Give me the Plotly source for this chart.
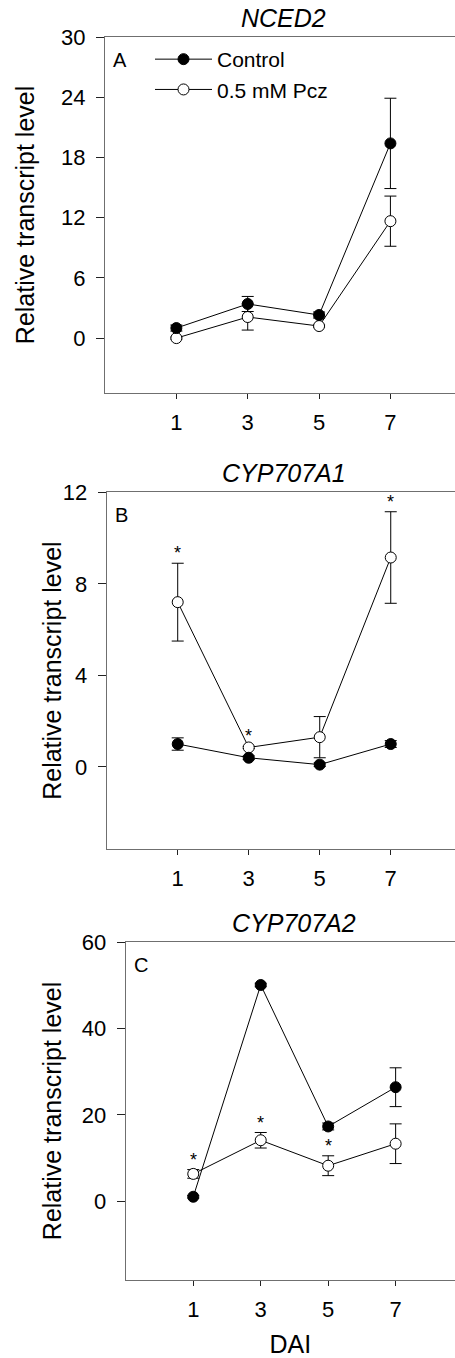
import plotly.graph_objects as go

W, H = 455, 1358

# Sampling days (days after imbibition)
days = [1, 3, 5, 7]

# NCED2
nced2_ctrl = [1.0, 3.4, 2.3, 19.4]
nced2_ctrl_se = [0.3, 0.75, 0.3, 4.5]
nced2_pcz = [0.0, 2.1, 1.2, 11.65]
nced2_pcz_se = [0.1, 1.3, 0.1, 2.5]
nced2_sig = [False, False, False, False]
nced2_ticks = [0, 6, 12, 18, 24, 30]

# CYP707A1
a1_ctrl = [1.0, 0.4, 0.1, 1.0]
a1_ctrl_se = [0.27, 0.08, 0.08, 0.15]
a1_pcz = [7.2, 0.85, 1.3, 9.15]
a1_pcz_se = [1.7, 0.05, 0.9, 2.0]
a1_sig = [True, True, False, True]
a1_ticks = [0, 4, 8, 12]

# CYP707A2
a2_ctrl = [1.0, 50.1, 17.3, 26.4]
a2_ctrl_se = [0.3, 0.4, 0.8, 4.5]
a2_pcz = [6.3, 14.1, 8.2, 13.3]
a2_pcz_se = [1.0, 1.8, 2.3, 4.6]
a2_sig = [True, True, True, False]
a2_ticks = [0, 20, 40, 60]

genes = ["NCED2", "CYP707A1", "CYP707A2"]
letters = ["A", "B", "C"]
series_names = ["Control", "0.5 mM Pcz"]

FONT = "Arial, Liberation Sans, sans-serif"
AXIS_GREY = "#6f6f6f"

panels = [
    dict(ctrl=nced2_ctrl, ctrl_se=nced2_ctrl_se, pcz=nced2_pcz, pcz_se=nced2_pcz_se,
         sig=nced2_sig, ticks=nced2_ticks, yrange=[-5.5, 30], xrange=[-1, 8.81],
         left=105, top=37, bottom=393.3, ytitle_x=25),
    dict(ctrl=a1_ctrl, ctrl_se=a1_ctrl_se, pcz=a1_pcz, pcz_se=a1_pcz_se,
         sig=a1_sig, ticks=a1_ticks, yrange=[-3.6, 12], xrange=[-1, 8.81],
         left=106.7, top=492.3, bottom=849.3, ytitle_x=52),
    dict(ctrl=a2_ctrl, ctrl_se=a2_ctrl_se, pcz=a2_pcz, pcz_se=a2_pcz_se,
         sig=a2_sig, ticks=a2_ticks, yrange=[-18.3, 60], xrange=[-1, 8.76],
         left=125.8, top=942.3, bottom=1280, ytitle_x=52),
]

fig = go.Figure()
annotations = []
layout = {}

for i, p in enumerate(panels):
    n = "" if i == 0 else str(i + 1)
    xa, ya = "x" + n, "y" + n

    # treated series first so the control series sits on top
    fig.add_trace(go.Scatter(
        x=days, y=p["pcz"], xaxis=xa, yaxis=ya, mode="lines+markers",
        name=series_names[1], showlegend=(i == 0), legendrank=2,
        line=dict(color="black", width=1),
        marker=dict(symbol="circle", size=11, color="white",
                    line=dict(color="black", width=1)),
        error_y=dict(type="data", array=p["pcz_se"], color="black",
                     thickness=1, width=6),
    ))
    fig.add_trace(go.Scatter(
        x=days, y=p["ctrl"], xaxis=xa, yaxis=ya, mode="lines+markers",
        name=series_names[0], showlegend=(i == 0), legendrank=1,
        line=dict(color="black", width=1),
        marker=dict(symbol="circle", size=11, color="black",
                    line=dict(color="black", width=1)),
        error_y=dict(type="data", array=p["ctrl_se"], color="black",
                     thickness=1, width=6),
    ))

    layout["xaxis" + n] = dict(
        domain=[p["left"] / W, 1], anchor=ya, range=p["xrange"], automargin=False,
        tickvals=days, ticktext=[str(d) for d in days],
        showline=True, mirror=True, linecolor=AXIS_GREY, linewidth=1.3,
        ticks="outside", ticklen=5, tickcolor="#222", tickwidth=1,
        showgrid=False, zeroline=False, ticklabelstandoff=4,
        tickfont=dict(family=FONT, size=22, color="black"),
    )
    layout["yaxis" + n] = dict(
        domain=[1 - p["bottom"] / H, 1 - p["top"] / H], anchor=xa, automargin=False,
        range=p["yrange"], tickvals=p["ticks"],
        showline=True, mirror=False, linecolor=AXIS_GREY, linewidth=1.3,
        ticks="outside", ticklen=8, tickcolor="#222", tickwidth=1,
        showgrid=False, zeroline=False, ticklabelstandoff=6,
        tickfont=dict(family=FONT, size=22, color="black"),
    )

    # gene name above each panel
    annotations.append(dict(
        text="<i>%s</i>" % genes[i], x=4, xref=xa, y=1, yref=ya + " domain",
        yanchor="middle", yshift=19, showarrow=False,
        font=dict(family=FONT, size=25, color="black"),
    ))
    # panel letter
    annotations.append(dict(
        text=letters[i], x=0, xref=xa + " domain", xanchor="left", xshift=6,
        y=1, yref=ya + " domain", yanchor="top", yshift=-10, showarrow=False,
        font=dict(family=FONT, size=20, color="black"),
    ))
    # y-axis title
    annotations.append(dict(
        text="Relative transcript level", textangle=-90,
        x=p["ytitle_x"] / W, xref="paper", xanchor="center",
        y=0.5, yref=ya + " domain", yanchor="middle", showarrow=False,
        font=dict(family=FONT, size=25, color="black"),
    ))
    # significance marks
    for d, v, e, s in zip(days, p["pcz"], p["pcz_se"], p["sig"]):
        if s:
            annotations.append(dict(
                text="*", x=d, xref=xa, y=v + e, yref=ya, yanchor="middle",
                yshift=10, showarrow=False,
                font=dict(family=FONT, size=18, color="black"),
            ))

layout["xaxis3"]["title"] = dict(
    text="DAI", standoff=14, font=dict(family=FONT, size=25, color="black"))

fig.update_layout(
    **layout,
    width=W, height=H,
    margin=dict(l=0, r=0, t=0, b=0, autoexpand=False),
    paper_bgcolor="white", plot_bgcolor="white",
    annotations=annotations,
    showlegend=True,
    legend=dict(
        x=150 / W, y=1 - 39 / H, xanchor="left", yanchor="top",
        bgcolor="rgba(0,0,0,0)", borderwidth=0, itemwidth=57,
        font=dict(family=FONT, size=21, color="black"),
        traceorder="normal",
    ),
)

fig.write_html("out.html")
